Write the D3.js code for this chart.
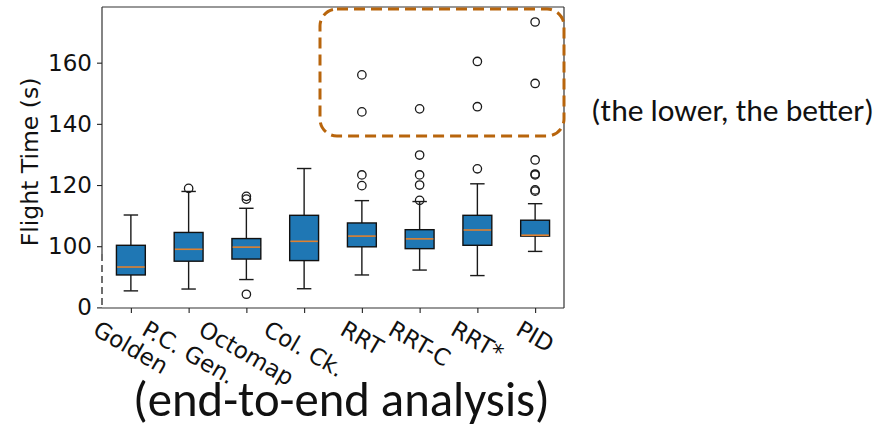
<!DOCTYPE html>
<html>
<head>
<meta charset="utf-8">
<script src="https://cdn.jsdelivr.net/npm/d3@7/dist/d3.min.js"></script>
<style>
  html, body { margin: 0; padding: 0; background: #fff; }
  svg { display: block; }
</style>
</head>
<body>
<svg id="chart" width="889" height="431"></svg>
<script>
// Flight time per pipeline stage (box statistics, seconds)
const categories  = ["Golden", "P.C. Gen.", "Octomap", "Col. Ck.", "RRT", "RRT-C", "RRT*", "PID"];
const whiskerLow  = [85.4, 86.0, 89.1, 86.1, 90.6, 92.2, 90.4, 98.3];
const q1          = [90.6, 95.1, 95.8, 95.3, 99.8, 99.2, 100.3, 103.3];
const median      = [93.2, 99.0, 99.7, 101.6, 103.3, 102.4, 105.3, 103.6];
const q3          = [100.3, 104.5, 102.5, 110.1, 107.6, 105.4, 110.1, 108.5];
const whiskerHigh = [110.2, 117.9, 112.4, 125.4, 114.9, 114.6, 120.4, 113.9];
const outliers    = [
  [],
  [118.9],
  [84.3, 115.4, 116.3],
  [],
  [119.8, 123.3, 143.9, 156.0],
  [115.0, 120.0, 123.3, 129.8, 144.9],
  [125.3, 145.6, 160.4],
  [118.0, 118.4, 123.3, 123.6, 128.2, 153.2, 173.3]
];
// broken axis: the lowest tick stands for zero
const yTickValues = [80, 100, 120, 140, 160];
const yTickLabels = ["0", "100", "120", "140", "160"];

const svg = d3.select("#chart");
const L = 102, R = 564, T = 7, B = 308;

const x = d3.scaleLinear().domain([0.5, categories.length + 0.5]).range([L, R]);
const y = d3.scaleLinear().domain([79.8, 178.2]).range([B, T]);

const tickFont = "'DejaVu Sans', sans-serif";
const boxW = 0.5, capW = 0.25;

// boxes
const g = svg.append("g");
categories.forEach((c, i) => {
  const cx = x(i + 1);
  const half = (x(boxW) - x(0)) / 2;
  const capHalf = (x(capW) - x(0)) / 2;
  const line = (x1, y1, x2, y2, col, w) =>
    g.append("line").attr("x1", x1).attr("y1", y1).attr("x2", x2).attr("y2", y2)
      .attr("stroke", col).attr("stroke-width", w);
  // whiskers
  line(cx, y(q1[i]), cx, y(whiskerLow[i]), "#1a1a1a", 1.4);
  line(cx, y(q3[i]), cx, y(whiskerHigh[i]), "#1a1a1a", 1.4);
  // caps
  line(cx - capHalf, y(whiskerLow[i]), cx + capHalf, y(whiskerLow[i]), "#1a1a1a", 1.4);
  line(cx - capHalf, y(whiskerHigh[i]), cx + capHalf, y(whiskerHigh[i]), "#1a1a1a", 1.4);
  // box
  g.append("rect")
    .attr("x", cx - half).attr("y", y(q3[i]))
    .attr("width", 2 * half).attr("height", y(q1[i]) - y(q3[i]))
    .attr("fill", "#1f77b4").attr("stroke", "#111").attr("stroke-width", 1.4);
  // median
  line(cx - half + 0.7, y(median[i]), cx + half - 0.7, y(median[i]), "#e0812f", 1.6);
  // fliers
  outliers[i].forEach(v => {
    g.append("circle").attr("cx", cx).attr("cy", y(v)).attr("r", 4.2)
      .attr("fill", "none").attr("stroke", "#1a1a1a").attr("stroke-width", 1.3);
  });
});

// frame
const frameCol = "#333";
svg.append("line").attr("x1", L).attr("x2", R).attr("y1", T).attr("y2", T)
  .attr("stroke", frameCol).attr("stroke-width", 1.2);
svg.append("line").attr("x1", R).attr("x2", R).attr("y1", T).attr("y2", B)
  .attr("stroke", frameCol).attr("stroke-width", 1.2);
svg.append("line").attr("x1", L).attr("x2", R).attr("y1", B).attr("y2", B)
  .attr("stroke", frameCol).attr("stroke-width", 1.2);
// left spine: solid above the break, dashed below it
const breakY = 254;
svg.append("line").attr("x1", L).attr("x2", L).attr("y1", T).attr("y2", breakY)
  .attr("stroke", frameCol).attr("stroke-width", 1.2);
svg.append("line").attr("x1", L).attr("x2", L).attr("y1", breakY).attr("y2", B)
  .attr("stroke", "#222").attr("stroke-width", 1.3).attr("stroke-dasharray", "7,4");

// y axis
const yAxis = d3.axisLeft(y).tickValues(yTickValues)
  .tickFormat((d, i) => yTickLabels[i]).tickSize(5).tickPadding(5);
const yg = svg.append("g").attr("transform", `translate(${L},0)`).call(yAxis);
yg.select(".domain").remove();
yg.selectAll(".tick line").attr("stroke", "#222").attr("stroke-width", 1.1);
yg.selectAll(".tick text").attr("font-family", tickFont).attr("font-size", 23).attr("fill", "#111");

// x axis
const xAxis = d3.axisBottom(x).tickValues(categories.map((c, i) => i + 1))
  .tickFormat("").tickSize(5);
const xg = svg.append("g").attr("transform", `translate(0,${B})`).call(xAxis);
xg.select(".domain").remove();
xg.selectAll(".tick line").attr("stroke", "#222").attr("stroke-width", 1.1);

// rotated category labels, centred under their ticks
const labelTop = B + 9, fs = 23, angle = 30;
categories.forEach((c, i) => {
  const t = svg.append("text").text(c)
    .attr("font-family", tickFont).attr("font-size", fs).attr("fill", "#111")
    .attr("text-anchor", "middle").attr("dominant-baseline", "central");
  const w = t.node().getComputedTextLength();
  const h = fs * 1.0;
  const rad = angle * Math.PI / 180;
  const H = w * Math.sin(rad) + h * Math.cos(rad);
  t.attr("transform", `translate(${x(i + 1)},${labelTop + H / 2}) rotate(${angle})`);
});

// y label
svg.append("text").text("Flight Time (s)")
  .attr("font-family", tickFont).attr("font-size", 23.5).attr("fill", "#111")
  .attr("text-anchor", "middle")
  .attr("transform", `translate(38,162) rotate(-90)`);

// highlight around the long-tail outliers
svg.append("rect")
  .attr("x", 320).attr("y", 9).attr("width", 244).attr("height", 127)
  .attr("rx", 17).attr("ry", 17)
  .attr("fill", "none").attr("stroke", "#b8650c").attr("stroke-width", 3)
  .attr("stroke-dasharray", "11,6");

// annotations
const noteFont = "Carlito, Calibri, Lato, 'Open Sans', sans-serif";
function fitText(txt, xLeft, yBase, size, targetW) {
  const t = svg.append("text").text(txt).attr("x", xLeft).attr("y", yBase)
    .attr("font-family", noteFont).attr("font-size", size).attr("fill", "#111");
  const w = t.node().getComputedTextLength();
  t.attr("font-size", size * targetW / w);
  return t;
}
fitText("(the lower, the better)", 591, 121, 24, 283);
fitText("(end-to-end analysis)", 133, 416, 36, 417);
</script>
</body>
</html>
